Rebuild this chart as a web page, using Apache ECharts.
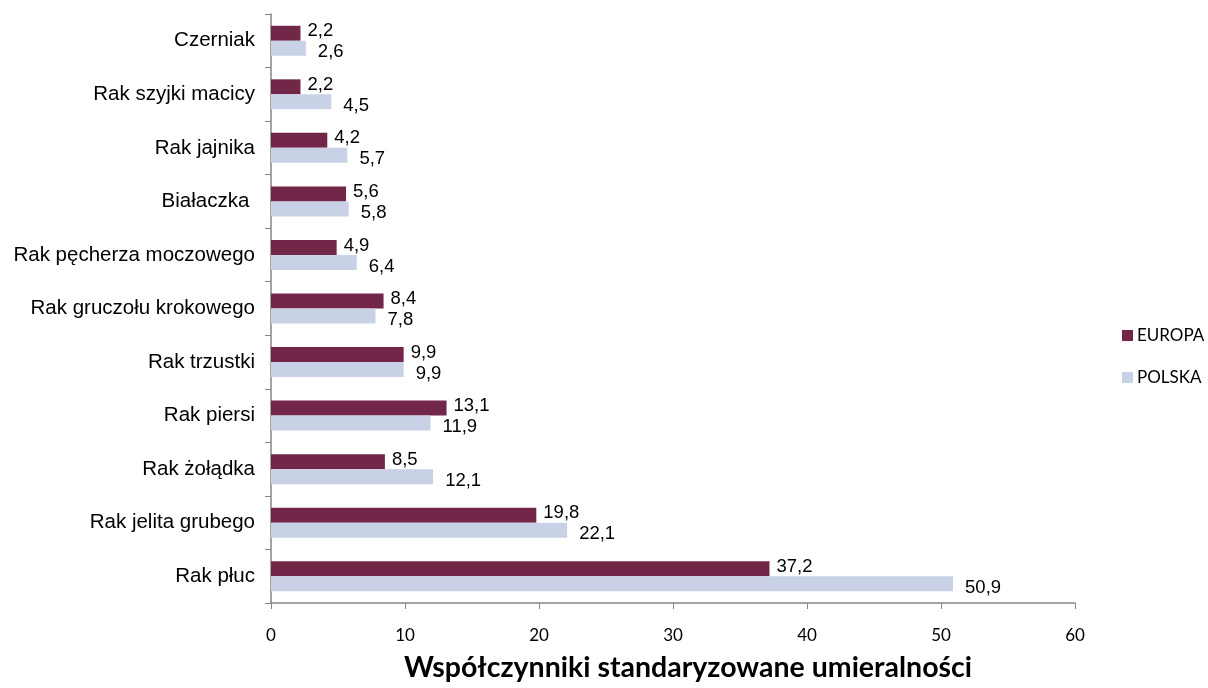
<!DOCTYPE html>
<html><head><meta charset="utf-8">
<script src="https://cdn.jsdelivr.net/npm/echarts@6/dist/echarts.min.js"></script>
<style>html,body{margin:0;padding:0;background:#fff}#c{width:1208px;height:688px}</style>
</head><body><div id="c"></div>
<script>
const categories = ['Czerniak','Rak szyjki macicy','Rak jajnika','Białaczka ','Rak pęcherza moczowego','Rak gruczołu krokowego','Rak trzustki','Rak piersi','Rak żołądka','Rak jelita grubego','Rak płuc'];
const europa = [2.2,2.2,4.2,5.6,4.9,8.4,9.9,13.1,8.5,19.8,37.2];
const polska = [2.6,4.5,5.7,5.8,6.4,7.8,9.9,11.9,12.1,22.1,50.9];
const xTicks = [0,10,20,30,40,50,60];
const seriesNames = ['EUROPA','POLSKA'];
const axisTitle = 'Współczynniki standaryzowane umieralności';

const chart = echarts.init(document.getElementById('c'));
const fmt = p => String(p.value).replace('.', ',');
chart.setOption({
  animation:false,
  grid:{left:271, top:14, right:133, bottom:85, containLabel:false},
  legend:{
    orient:'vertical', left:1117, top:322, itemWidth:11, itemHeight:11, itemGap:25,
    textStyle:{fontFamily:'Lato, Liberation Sans', fontSize:17, color:'#000', padding:[0,0,0,-1]},
    data:seriesNames, icon:'rect'
  },
  xAxis:{
    type:'value', min:xTicks[0], max:xTicks[xTicks.length-1], interval:10,
    axisLine:{show:true, lineStyle:{color:'#868686', width:1.5}},
    axisTick:{show:true, length:6, lineStyle:{color:'#868686'}},
    splitLine:{show:false},
    axisLabel:{margin:24, fontFamily:'Lato, Liberation Sans', fontSize:17, color:'#000'},
    name:axisTitle, nameLocation:'middle', nameGap:50,
    nameTextStyle:{fontFamily:'Lato, Liberation Sans', fontWeight:'bold', fontSize:28.5, color:'#000', padding:[0,0,0,30]}
  },
  yAxis:{
    type:'category', data:categories, inverse:true,
    axisLine:{show:true, lineStyle:{color:'#868686', width:1.5}},
    axisTick:{show:true, length:6, lineStyle:{color:'#868686'}},
    axisLabel:{margin:16, fontFamily:'Liberation Sans, Arial', fontSize:20.5, color:'#000'}
  },
  series:[
    {name:seriesNames[0], type:'bar', data:europa, barGap:'0%', barCategoryGap:'44%',
     itemStyle:{color:'#722749'},
     label:{show:true, position:'right', distance:7, offset:[0,-2], formatter:fmt,
       fontFamily:'Liberation Sans, Arial', fontSize:18.5, color:'#000'}},
    {name:seriesNames[1], type:'bar', data:polska, barGap:'0%', barCategoryGap:'44%',
     itemStyle:{color:'#c9d1e6'},
     label:{show:true, position:'right', distance:12, offset:[0,4], formatter:fmt,
       fontFamily:'Liberation Sans, Arial', fontSize:18.5, color:'#000'}}
  ]
});
</script></body></html>
